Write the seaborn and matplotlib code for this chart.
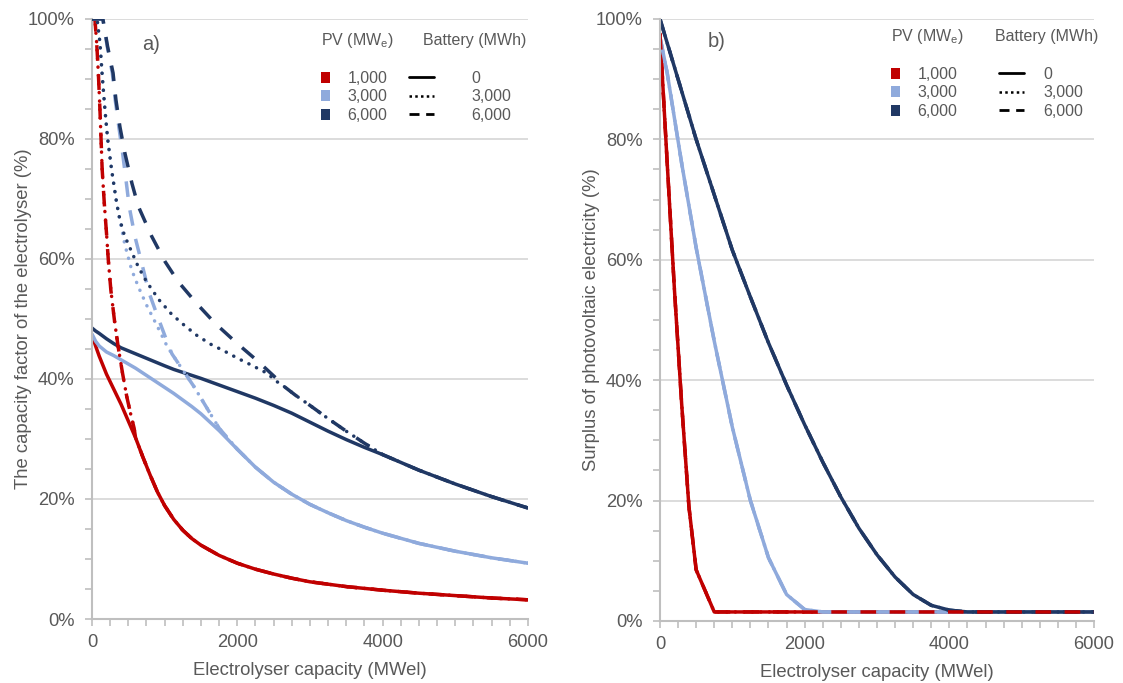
import numpy as np
import pandas as pd
import matplotlib
matplotlib.use("Agg")
import matplotlib.pyplot as plt
from matplotlib.lines import Line2D
from matplotlib.patches import Patch
from matplotlib.ticker import MultipleLocator, PercentFormatter
import seaborn as sns

# ---------------- data ----------------
PV_LEVELS = ['1,000', '3,000', '6,000']
BATT_LEVELS = ['0', '3,000', '6,000']
PV_COLORS = ['#C00000', '#8FAADC', '#203864']

# panel a) capacity factor of the electrolyser (%), no battery
cap_solid = [0, 50, 100, 200, 300, 400, 500, 600, 700, 800, 900, 1000, 1125, 1250, 1375,
             1500, 1750, 2000, 2250, 2500, 2750, 3000, 3250, 3500, 3750, 4000, 4500, 5000,
             5500, 6000]
cf_pv1000_b0 = [47.3, 45.5, 43.8, 40.8, 38.3, 35.8, 33.0, 30.2, 27.0, 24.0, 21.2, 18.9,
                16.6, 14.8, 13.4, 12.3, 10.6, 9.3, 8.3, 7.5, 6.8, 6.2, 5.8, 5.4, 5.1, 4.8,
                4.3, 3.9, 3.5, 3.2]
cf_pv3000_b0 = [47.5, 46.3, 45.5, 44.5, 43.9, 43.2, 42.5, 41.8, 41.0, 40.2, 39.4, 38.6,
                37.6, 36.5, 35.4, 34.2, 31.4, 28.3, 25.3, 22.8, 20.8, 19.1, 17.7, 16.4,
                15.3, 14.3, 12.6, 11.3, 10.2, 9.3]
cf_pv6000_b0 = [48.5, 48.0, 47.6, 46.7, 45.9, 45.2, 44.7, 44.2, 43.7, 43.2, 42.7, 42.2,
                41.6, 41.1, 40.6, 40.1, 39.0, 37.9, 36.8, 35.6, 34.3, 32.8, 31.3, 29.9,
                28.6, 27.4, 24.8, 22.5, 20.4, 18.5]

# with battery (the curves join the no-battery curve further right)
cap_pv1000_batt = [0, 40, 65, 90, 110, 125, 140, 170, 200, 225, 260, 310, 360, 420,
                   480, 530, 580]
cf_pv1000_batt = [100, 100, 96.0, 90.4, 84.8, 80.0, 75.0, 69.2, 64.3, 59.8, 54.8, 49.7,
                  45.4, 41.0, 37.0, 34.3, 31.8]

cap_pv3000_b3000 = [0, 70, 110, 142, 179, 216, 271, 340, 362, 454, 546, 637, 752, 844,
                    936, 1028]
cf_pv3000_b3000 = [100, 100, 96.0, 90.4, 84.8, 80.0, 74.8, 69.3, 67.8, 62.3, 58.2, 55.4,
                   52.3, 50.1, 47.9, 45.6]
cap_pv3000_b6000 = [0, 150, 210, 280, 320, 370, 422, 472, 513, 592, 693, 785, 904, 1041]
cf_pv3000_b6000 = [100, 100, 95.4, 91.0, 86.5, 82.0, 77.6, 72.8, 68.7, 63.7, 58.9, 54.4,
                   50.4, 46.0]
cap_pv3000_batt_join = [1100, 1250, 1400, 1500, 1600, 1750]
cf_pv3000_batt_join = [44.2, 41.5, 38.8, 36.8, 34.8, 31.8]

cap_pv6000_b3000 = [0, 70, 110, 142, 179, 216, 271, 340, 385, 445, 546, 637, 752, 922,
                    1096, 1266, 1440, 1633, 1830, 2013, 2197, 2404, 2541]
cf_pv6000_b3000 = [100, 100, 96.0, 90.4, 84.8, 80.0, 74.8, 69.3, 66.5, 64.0, 61.2, 58.7,
                   56.2, 53.2, 50.8, 49.0, 47.3, 45.8, 44.6, 43.4, 42.3, 41.0, 39.6]
cap_pv6000_b6000 = [0, 150, 215, 290, 330, 385, 454, 550, 637, 821, 1004, 1188, 1440,
                    1693, 1991, 2289, 2564]
cf_pv6000_b6000 = [100, 100, 95.4, 91.0, 86.5, 82.0, 77.6, 72.6, 68.8, 63.8, 59.6, 56.2,
                   52.6, 49.3, 46.0, 42.9, 39.8]
cap_pv6000_batt_join = [2650, 2800, 3000, 3250, 3500, 3750]
cf_pv6000_batt_join = [38.7, 37.3, 35.6, 33.4, 31.3, 29.3]

# panel b) surplus of photovoltaic electricity (%)
cap_surplus = [0, 100, 200, 300, 400, 500, 750, 1000, 1250, 1500, 1750, 2000, 2250,
               2500, 2750, 3000, 3250, 3500, 3750, 4000, 4250, 4500, 5000, 5500, 6000]
surplus_pv1000 = [97.5, 76.0, 55.0, 36.0, 19.0, 8.5, 1.5, 1.5, 1.5, 1.5, 1.5, 1.5, 1.5,
                  1.5, 1.5, 1.5, 1.5, 1.5, 1.5, 1.5, 1.5, 1.5, 1.5, 1.5, 1.5]
surplus_pv3000 = [97.0, 91.0, 83.5, 76.0, 69.0, 62.0, 46.5, 32.2, 20.0, 10.5, 4.4, 1.9,
                  1.5, 1.5, 1.5, 1.5, 1.5, 1.5, 1.5, 1.5, 1.5, 1.5, 1.5, 1.5, 1.5]
surplus_pv6000 = [100, 96.0, 92.0, 88.0, 84.0, 80.0, 70.8, 61.6, 53.8, 46.2, 39.2, 32.6,
                  26.4, 20.6, 15.4, 11.0, 7.3, 4.4, 2.6, 1.8, 1.5, 1.5, 1.5, 1.5, 1.5]


def with_tail(cap, val, cap_base, val_base):
    # continue a battery curve along the no-battery curve once they coincide
    cap_out, val_out = list(cap), list(val)
    for c, v in zip(cap_base, val_base):
        if c > cap_out[-1]:
            cap_out.append(c)
            val_out.append(v)
    return cap_out, val_out


def frame(cap, val, pv, batt):
    return pd.DataFrame({'cap': cap, 'val': val, 'pv': pv, 'batt': batt})


parts_a = [
    frame(cap_solid, cf_pv1000_b0, '1,000', '0'),
    frame(*with_tail(cap_pv1000_batt, cf_pv1000_batt, cap_solid, cf_pv1000_b0), '1,000', '3,000'),
    frame(*with_tail(cap_pv1000_batt, cf_pv1000_batt, cap_solid, cf_pv1000_b0), '1,000', '6,000'),
    frame(cap_solid, cf_pv3000_b0, '3,000', '0'),
    frame(*with_tail(cap_pv3000_b3000 + cap_pv3000_batt_join, cf_pv3000_b3000 + cf_pv3000_batt_join,
                     cap_solid, cf_pv3000_b0), '3,000', '3,000'),
    frame(*with_tail(cap_pv3000_b6000 + cap_pv3000_batt_join, cf_pv3000_b6000 + cf_pv3000_batt_join,
                     cap_solid, cf_pv3000_b0), '3,000', '6,000'),
    frame(cap_solid, cf_pv6000_b0, '6,000', '0'),
    frame(*with_tail(cap_pv6000_b3000 + cap_pv6000_batt_join, cf_pv6000_b3000 + cf_pv6000_batt_join,
                     cap_solid, cf_pv6000_b0), '6,000', '3,000'),
    frame(*with_tail(cap_pv6000_b6000 + cap_pv6000_batt_join, cf_pv6000_b6000 + cf_pv6000_batt_join,
                     cap_solid, cf_pv6000_b0), '6,000', '6,000'),
]
df_a = pd.concat(parts_a, ignore_index=True)

surplus_by_pv = {'1,000': surplus_pv1000, '3,000': surplus_pv3000, '6,000': surplus_pv6000}
df_b = pd.concat([frame(cap_surplus, surplus_by_pv[pv], pv, b)
                  for pv in PV_LEVELS for b in BATT_LEVELS], ignore_index=True)

# ---------------- style ----------------
TEXT = '#595959'
AXIS = '#BFBFBF'
GRID = '#D9D9D9'
DASHES = {'0': '', '3,000': (0.05, 2.4), '6,000': (4.5, 3.9)}

sns.set_theme(style='white')
plt.rcParams['font.family'] = ['Liberation Sans', 'DejaVu Sans']
plt.rcParams['mathtext.default'] = 'regular'

fig = plt.figure(figsize=(11.23, 6.83), dpi=100)
ax1 = fig.add_axes([0.0819, 0.0937, 0.3882, 0.8785])
ax2 = fig.add_axes([0.5877, 0.0908, 0.3865, 0.8814])

palette = dict(zip(PV_LEVELS, PV_COLORS))
for ax, df in [(ax1, df_a), (ax2, df_b)]:
    sns.lineplot(data=df, x='cap', y='val', hue='pv', style='batt',
                 hue_order=PV_LEVELS, style_order=BATT_LEVELS, palette=palette,
                 dashes=DASHES, estimator=None, sort=False, linewidth=2.5,
                 legend=False, ax=ax)

# line caps and drawing order
zorder_b = {(0, 0): 2.0, (1, 0): 2.1, (2, 0): 2.2,
            (0, 1): 1.9, (0, 2): 2.5,
            (1, 1): 2.15, (1, 2): 2.15,
            (2, 1): 2.25, (2, 2): 2.25}
for ax in (ax1, ax2):
    for i, line in enumerate(ax.lines):
        pv_i, b_i = divmod(i, 3)
        line.set_solid_capstyle('round')
        line.set_solid_joinstyle('round')
        line.set_dash_capstyle('round' if b_i == 1 else 'butt')
        if ax is ax1:
            line.set_zorder(2 if b_i == 0 else 3 + 0.1 * pv_i)
        else:
            line.set_zorder(zorder_b[(pv_i, b_i)])

ylabels = ['The capacity factor of the electrolyser (%)',
           'Surplus of photovoltaic electricity (%)']
for ax, ylab in zip((ax1, ax2), ylabels):
    ax.set_xlim(0, 6000)
    ax.set_ylim(0, 100)
    ax.xaxis.set_major_locator(MultipleLocator(2000))
    ax.xaxis.set_minor_locator(MultipleLocator(250))
    ax.yaxis.set_major_locator(MultipleLocator(20))
    ax.yaxis.set_minor_locator(MultipleLocator(5))
    ax.yaxis.set_major_formatter(PercentFormatter(100, decimals=0))
    ax.grid(True, axis='y', which='major', color=GRID, linewidth=1.3)
    ax.grid(False, axis='x')
    ax.set_axisbelow(True)
    for side in ('top', 'right'):
        ax.spines[side].set_visible(False)
    for side in ('left', 'bottom'):
        ax.spines[side].set_color(AXIS)
        ax.spines[side].set_linewidth(1.5)
    ax.tick_params(axis='both', which='both', direction='out', length=5, width=1.2,
                   color=AXIS, labelcolor=TEXT, labelsize=13.2)
    ax.tick_params(axis='x', which='both', bottom=True, pad=6)
    ax.tick_params(axis='y', which='both', left=True, pad=7.5)
    ax.set_xlabel('Electrolyser capacity (MWel)', fontsize=13.3, color=TEXT, labelpad=7.5)
    ax.set_ylabel(ylab, fontsize=13.3, color=TEXT, labelpad=-3)

# panel letters
ax1.text(0.135, 0.958, 'a)', transform=ax1.transAxes, fontsize=14.5, color=TEXT,
         ha='center', va='center')
ax2.text(0.131, 0.962, 'b)', transform=ax2.transAxes, fontsize=14.5, color=TEXT,
         ha='center', va='center')

# legends
pv_handles = [Patch(facecolor=c, edgecolor='none') for c in PV_COLORS]
batt_handles = [Line2D([], [], color='black', lw=2.0),
                Line2D([], [], color='black', lw=1.8, dashes=(1, 1.3), dash_capstyle='butt'),
                Line2D([], [], color='black', lw=2.0, dashes=(3.6, 2.4), dash_capstyle='butt')]

legend_layout = {
    ax1: dict(head_y=0.964, pv_x=0.526, batt_x=0.727, batt_head_x=0.759, top=0.9135,
              batt_len=1.6, batt_pad=2.3),
    ax2: dict(head_y=0.971, pv_x=0.532, batt_x=0.782, batt_head_x=0.771, top=0.9205,
              batt_len=1.55, batt_pad=1.2),
}
for ax, lay in legend_layout.items():
    leg_pv = ax.legend(pv_handles, PV_LEVELS, loc='upper left',
                       bbox_to_anchor=(lay['pv_x'], lay['top']), frameon=False,
                       borderpad=0, borderaxespad=0, handlelength=0.55, handleheight=0.7,
                       handletextpad=1.1, labelspacing=0.22, fontsize=11.5, labelcolor=TEXT)
    ax.add_artist(leg_pv)
    ax.legend(batt_handles, BATT_LEVELS, loc='upper left',
              bbox_to_anchor=(lay['batt_x'], lay['top']), frameon=False,
              borderpad=0, borderaxespad=0, handlelength=lay['batt_len'], handleheight=0.7,
              handletextpad=lay['batt_pad'], labelspacing=0.22, fontsize=11.5,
              labelcolor=TEXT)
    ax.text(lay['pv_x'], lay['head_y'], 'PV (MW$_e$)', transform=ax.transAxes,
            fontsize=11.5, color=TEXT, ha='left', va='center')
    ax.text(lay['batt_head_x'], lay['head_y'], 'Battery (MWh)', transform=ax.transAxes,
            fontsize=11.5, color=TEXT, ha='left', va='center')

fig.savefig('out.png', dpi=100)
